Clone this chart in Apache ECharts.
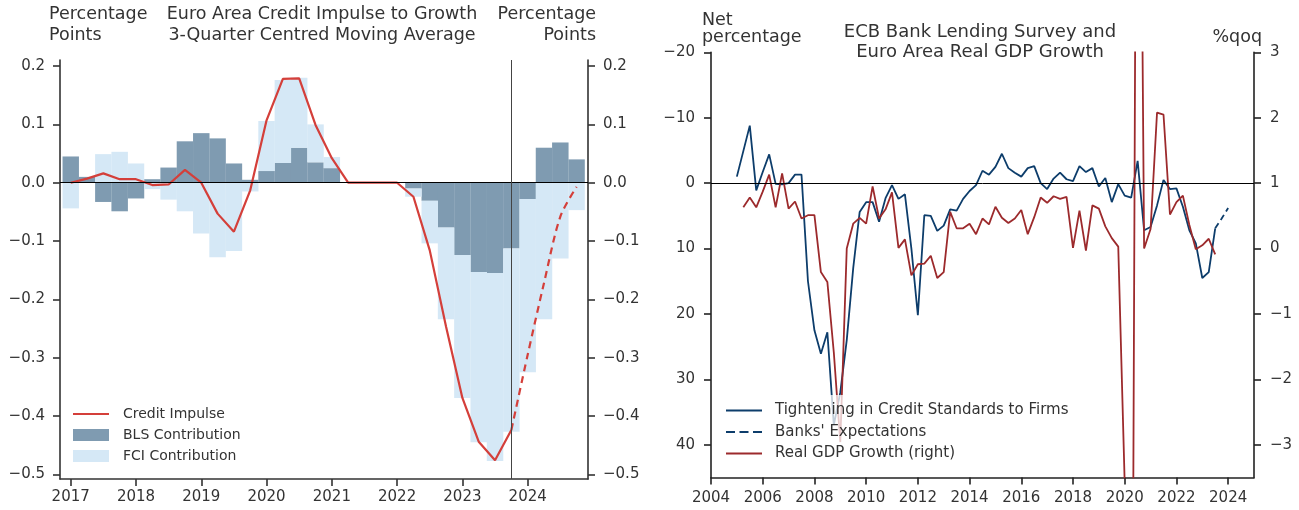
<!DOCTYPE html>
<html>
<head>
<meta charset="utf-8">
<script src="https://cdn.jsdelivr.net/npm/echarts@6/dist/echarts.min.js"></script>
<style>
  html, body { margin: 0; padding: 0; background: #fff; }
  #chart { width: 1299px; height: 510px; }
</style>
</head>
<body>
<div id="chart"></div>
<script>
// ---- left panel: credit impulse, quarterly 2017Q1 .. 2024Q4 ----
const leftStart = 2017;
const leftQuarters = [
  '2017Q1', '2017Q2', '2017Q3', '2017Q4', '2018Q1', '2018Q2', '2018Q3', '2018Q4',
  '2019Q1', '2019Q2', '2019Q3', '2019Q4', '2020Q1', '2020Q2', '2020Q3', '2020Q4',
  '2021Q1', '2021Q2', '2021Q3', '2021Q4', '2022Q1', '2022Q2', '2022Q3', '2022Q4',
  '2023Q1', '2023Q2', '2023Q3', '2023Q4', '2024Q1', '2024Q2', '2024Q3', '2024Q4'
];
const blsContribution = [
  0.045, 0.010, -0.033, -0.049,
  -0.027, 0.006, 0.026, 0.071,
  0.085, 0.076, 0.033, 0.005,
  0.020, 0.034, 0.060, 0.035,
  0.025, 0, 0, 0,
  0, -0.010, -0.031, -0.077,
  -0.124, -0.153, -0.155, -0.113,
  -0.028, 0.060, 0.069, 0.040
];
const fciContribution = [
  -0.044, 0, 0.049, 0.053,
  0.033, -0.011, -0.029, -0.049,
  -0.087, -0.128, -0.117, -0.015,
  0.086, 0.142, 0.120, 0.065,
  0.019, 0, 0, 0,
  0, -0.014, -0.073, -0.157,
  -0.245, -0.292, -0.322, -0.314,
  -0.297, -0.234, -0.130, -0.047
];
const creditImpulse = [
  0.000, 0.007, 0.016, 0.006,
  0.006, -0.004, -0.003, 0.022,
  0.000, -0.053, -0.084, -0.013,
  0.107, 0.178, 0.179, 0.099,
  0.042, 0.000, 0.000, 0.000,
  0.000, -0.024, -0.116, -0.247,
  -0.369, -0.444, -0.476, -0.424
];
const projStart = 2023.75;
const creditImpulseProj = [-0.424, -0.295, -0.172, -0.058, -0.007];
const leftXTicks = [2017, 2018, 2019, 2020, 2021, 2022, 2023, 2024];
const leftYTicks = [-0.5, -0.4, -0.3, -0.2, -0.1, 0, 0.1, 0.2];

// ---- right panel: BLS credit standards and GDP ----
const blsStart = 2005;
const creditStandards = [
  -1, -4.9, -8.8, 1.1, -1.7, -4.4, 0.1, 0.2,
  0, -1.3, -1.3, 15, 22.5, 26.1, 22.8, 37,
  32, 24, 13, 4.4, 2.9, 2.9, 5.9, 2.3,
  0.3, 2.4, 1.7, 10, 20.2, 4.9, 5, 7.3,
  6.5, 4, 4.2, 2.4, 1.2, 0.3, -1.9, -1.3,
  -2.5, -4.5, -2.3, -1.6, -1, -2.3, -2.6, 0,
  0.9, -0.7, -1.6, -0.6, -0.3, -2.6, -1.7, -2.3,
  0.5, -0.8, 2.9, 0.15, 1.9, 2.2, -3.4, 7.2,
  6.7, 3.4, -0.5, 0.9, 0.8, 3.6, 7.2, 9.2,
  14.5, 13.6, 6.9
];
const expStart = 2023.5;
const banksExpectations = [6.9, 5.4, 3.8];
const gdpStart = 2005.25;
const realGdp = [
  0.63, 0.78, 0.63, 0.87, 1.13, 0.63, 1.15,
  0.61, 0.72, 0.46, 0.51, 0.51, -0.36, -0.51, -1.59,
  -2.96, 0.0, 0.38, 0.47, 0.38, 0.95, 0.46, 0.6,
  0.86, 0.01, 0.14, -0.41, -0.24, -0.23, -0.11, -0.45,
  -0.36, 0.56, 0.31, 0.31, 0.38, 0.22, 0.46, 0.37,
  0.64, 0.47, 0.39, 0.46, 0.59, 0.22, 0.48, 0.78,
  0.7, 0.8, 0.76, 0.79, 0.01, 0.58, -0.03, 0.66,
  0.61, 0.34, 0.16, 0.03, -3.6, -11.6, 12.5, 0.0,
  0.3, 2.08, 2.05, 0.52, 0.71, 0.81, 0.36, -0.01,
  0.05, 0.15, -0.09
];
const rightXTicks = [2004, 2006, 2008, 2010, 2012, 2014, 2016, 2018, 2020, 2022, 2024];
const rightYTicksL = [-20, -10, 0, 10, 20, 30, 40];
const rightYTicksR = [-3, -2, -1, 0, 1, 2, 3];

const FONT = 'DejaVu Sans';
const TXT = '#333';
const toPairs = (start, arr) => arr.map((v, i) => [start + i * 0.25, v]);
const minus = s => s.replace('-', '\u2212');

// legend glyphs: a 36x12 box holding a 2px line (solid or dashed)
const LINE_ICON = 'path://M0,0h0.01v0.01zM0,5h36v2h-36zM35.99,11.99h0.01v0.01z';
const DASH_ICON = 'path://M0,0h0.01v0.01zM0,5h9v2h-9zM13.5,5h9v2h-9zM27,5h9v2h-9zM35.99,11.99h0.01v0.01z';

// left panel x range, in years; the bars sit on a hidden category grid laid over it
const L_MIN = 2016.836, L_MAX = 2024.924, L_LEFT = 60, L_WIDTH = 528;
const pxPerYear = L_WIDTH / (L_MAX - L_MIN);

function tick(color, values) {
  return { show: true, length: 7, customValues: values, lineStyle: { color: color, width: 1.6 } };
}
function label(values, margin, fmt) {
  return { customValues: values, margin: margin, fontSize: 15, color: TXT, fontFamily: FONT, formatter: fmt };
}
function line(color) {
  return { show: true, onZero: false, lineStyle: { color: color, width: 1.6 } };
}

function txt(text, x, y, align, size) {
  return {
    type: 'text', x: x, y: y, silent: true,
    style: {
      text: text, fill: TXT, font: size + 'px "' + FONT + '"',
      textAlign: align, textVerticalAlign: 'middle', verticalAlign: 'middle'
    }
  };
}

const chart = echarts.init(document.getElementById('chart'));

const option = {
  animation: false,
  backgroundColor: '#fff',
  textStyle: { fontFamily: FONT },
  grid: [
    { left: L_LEFT, top: 60, width: L_WIDTH, height: 419 },
    { left: 711, top: 52.4, width: 543, height: 425 },
    { left: L_LEFT + (leftStart - 0.125 - L_MIN) * pxPerYear, top: 60, width: 8 * pxPerYear, height: 419 }
  ],
  xAxis: [
    {
      gridIndex: 0, type: 'value', min: L_MIN, max: L_MAX, splitLine: { show: false },
      axisLine: line('#333'), axisTick: tick('#333', leftXTicks),
      axisLabel: label(leftXTicks, 11, v => String(v))
    },
    {
      gridIndex: 1, type: 'value', min: 2004, max: 2025, splitLine: { show: false },
      axisLine: line('#222'), axisTick: tick('#222', rightXTicks),
      axisLabel: label(rightXTicks, 13, v => String(v))
    },
    { gridIndex: 2, type: 'category', data: leftQuarters, show: false, boundaryGap: true }
  ],
  yAxis: [
    {
      gridIndex: 0, type: 'value', position: 'left', min: -0.508, max: 0.2104, splitLine: { show: false },
      axisLine: line('#333'), axisTick: tick('#333', leftYTicks),
      axisLabel: label(leftYTicks, 15, v => minus(v.toFixed(1)))
    },
    {
      gridIndex: 0, type: 'value', position: 'right', min: -0.508, max: 0.2104, splitLine: { show: false },
      axisLine: line('#333'), axisTick: tick('#333', leftYTicks),
      axisLabel: label(leftYTicks, 15, v => minus(v.toFixed(1)))
    },
    {
      gridIndex: 1, type: 'value', position: 'left', min: -20, max: 45, inverse: true, splitLine: { show: false },
      axisLine: line('#222'), axisTick: tick('#222', rightYTicksL),
      axisLabel: label(rightYTicksL, 16, v => minus(String(v)))
    },
    {
      gridIndex: 1, type: 'value', position: 'right', min: -3.5, max: 3, splitLine: { show: false },
      axisLine: line('#222'), axisTick: tick('#222', rightYTicksR),
      axisLabel: label(rightYTicksR, 16, v => minus(String(v)))
    },
    { gridIndex: 2, type: 'value', min: -0.508, max: 0.2104, show: false }
  ],
  legend: [
    {
      orient: 'vertical', left: 73, top: 407, padding: 0, itemGap: 7,
      itemWidth: 36, itemHeight: 12, selectedMode: false,
      textStyle: { fontSize: 14, color: TXT, fontFamily: FONT, padding: [0, 0, 0, 9] },
      data: [
        { name: 'Credit Impulse', icon: LINE_ICON },
        { name: 'BLS Contribution', icon: 'rect' },
        { name: 'FCI Contribution', icon: 'rect' }
      ]
    },
    {
      orient: 'vertical', left: 718, top: 395, padding: [8, 10, 8, 8], itemGap: 6.5,
      itemWidth: 36, itemHeight: 12, selectedMode: false,
      backgroundColor: 'rgba(255,255,255,0.75)',
      textStyle: { fontSize: 15, color: TXT, fontFamily: FONT, padding: [0, 0, 0, 8] },
      data: [
        { name: 'Tightening in Credit Standards to Firms', icon: LINE_ICON },
        { name: "Banks' Expectations", icon: DASH_ICON },
        { name: 'Real GDP Growth (right)', icon: LINE_ICON }
      ]
    }
  ],
  series: [
    {
      name: 'BLS Contribution', type: 'bar', xAxisIndex: 2, yAxisIndex: 4, stack: 'credit',
      barWidth: '101%', itemStyle: { color: '#7f9bb1' },
      data: blsContribution
    },
    {
      name: 'FCI Contribution', type: 'bar', xAxisIndex: 2, yAxisIndex: 4, stack: 'credit',
      barWidth: '101%', itemStyle: { color: '#d5e8f6' },
      data: fciContribution
    },
    {
      name: 'Credit Impulse', type: 'line', xAxisIndex: 0, yAxisIndex: 0,
      symbol: 'none', lineStyle: { color: '#d43f3a', width: 2.2 }, itemStyle: { color: '#d43f3a' },
      data: toPairs(leftStart, creditImpulse),
      markLine: {
        silent: true, symbol: 'none', label: { show: false },
        data: [
          { yAxis: 0, lineStyle: { color: '#000', width: 1, type: 'solid' } },
          { xAxis: 2023.75, lineStyle: { color: '#444', width: 1, type: 'solid' } }
        ]
      },
      z: 3
    },
    {
      name: 'Credit Impulse (projection)', type: 'line', xAxisIndex: 0, yAxisIndex: 0,
      symbol: 'none', smooth: 0.3, lineStyle: { color: '#d43f3a', width: 2.2, type: [7, 5] },
      data: toPairs(projStart, creditImpulseProj), z: 3
    },
    {
      name: 'Tightening in Credit Standards to Firms', type: 'line', xAxisIndex: 1, yAxisIndex: 2,
      symbol: 'none', lineStyle: { color: '#0d3d6b', width: 1.8 }, itemStyle: { color: '#0d3d6b' },
      data: toPairs(blsStart, creditStandards),
      markLine: {
        silent: true, symbol: 'none', label: { show: false },
        data: [{ yAxis: 0, lineStyle: { color: '#000', width: 1, type: 'solid' } }]
      }
    },
    {
      name: "Banks' Expectations", type: 'line', xAxisIndex: 1, yAxisIndex: 2,
      symbol: 'none', lineStyle: { color: '#0d3d6b', width: 1.8, type: [6, 4] }, itemStyle: { color: '#0d3d6b' },
      data: toPairs(expStart, banksExpectations)
    },
    {
      name: 'Real GDP Growth (right)', type: 'line', xAxisIndex: 1, yAxisIndex: 3,
      symbol: 'none', lineStyle: { color: '#9c2a2c', width: 1.8 }, itemStyle: { color: '#9c2a2c' },
      data: toPairs(gdpStart, realGdp)
    }
  ],
  graphic: [
    txt('Percentage', 49, 14.7, 'left', 17.5),
    txt('Points', 49, 35.7, 'left', 17.5),
    txt('Euro Area Credit Impulse to Growth', 322, 14.7, 'center', 17.5),
    txt('3-Quarter Centred Moving Average', 322, 35.7, 'center', 17.5),
    txt('Percentage', 596, 14.7, 'right', 17.5),
    txt('Points', 596, 35.7, 'right', 17.5),
    txt('Net', 702, 20.7, 'left', 17.5),
    txt('percentage', 702, 37.3, 'left', 17.5),
    txt('ECB Bank Lending Survey and', 980, 32.3, 'center', 18),
    txt('Euro Area Real GDP Growth', 980, 52.3, 'center', 18),
    txt('%qoq', 1262, 37.3, 'right', 17.5)
  ]
};

chart.setOption(option);
</script>
</body>
</html>
